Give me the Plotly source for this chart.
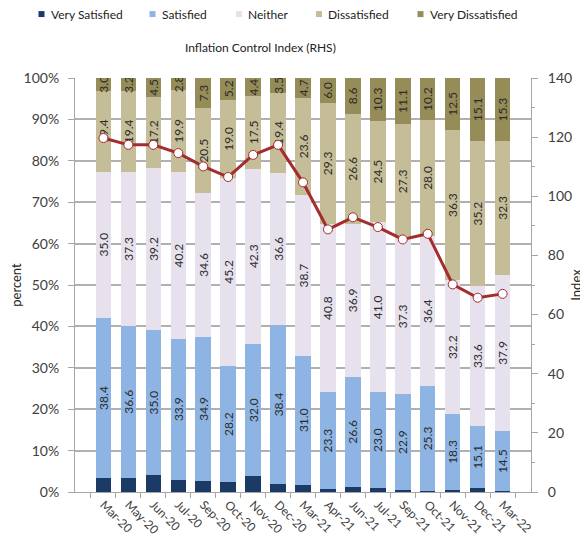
import plotly.graph_objects as go

categories = ["Mar-20", "May-20", "Jun-20", "Jul-20", "Sep-20", "Oct-20", "Nov-20", "Dec-20",
              "Mar-21", "Apr-21", "Jun-21", "Jul-21", "Sep-21", "Oct-21", "Nov-21", "Dec-21", "Mar-22"]

very_satisfied = [3.3, 3.5, 4.1, 3.0, 2.6, 2.3, 3.8, 1.9, 1.8, 0.8, 1.2, 1.0, 0.5, 0.3, 0.5, 0.9, 0.2]
satisfied = [38.4, 36.6, 35.0, 33.9, 34.9, 28.2, 32.0, 38.4, 31.0, 23.3, 26.6, 23.0, 22.9, 25.3, 18.3, 15.1, 14.5]
neither = [35.0, 37.3, 39.2, 40.2, 34.6, 45.2, 42.3, 36.6, 38.7, 40.8, 36.9, 41.0, 37.3, 36.4, 32.2, 33.6, 37.9]
dissatisfied = [19.4, 19.4, 17.2, 19.9, 20.5, 19.0, 17.5, 19.4, 23.6, 29.3, 26.6, 24.5, 27.3, 28.0, 36.3, 35.2, 32.3]
very_dissatisfied = [3.0, 3.2, 4.5, 2.8, 7.3, 5.2, 4.4, 3.5, 4.7, 6.0, 8.6, 10.3, 11.1, 10.2, 12.5, 15.1, 15.3]
inflation_index = [119.7, 117.4, 117.4, 114.6, 110.1, 106.5, 114.0, 117.4, 104.7,
                   88.8, 92.9, 89.6, 85.4, 87.3, 70.2, 65.7, 67.0]

FONT = "Lato"
TXT = "#404040"

series = [
    ("Very Satisfied", very_satisfied, "#1b3a66", False),
    ("Satisfied", satisfied, "#8db4e2", True),
    ("Neither", neither, "#e7e1ed", True),
    ("Dissatisfied", dissatisfied, "#c4bd97", True),
    ("Very Dissatisfied", very_dissatisfied, "#968c58", True),
]

# page body has an 8px margin, so the figure is sized/placed to compensate
OFF = 8
W, H = 588 - OFF, 552 - OFF
ML, MR, MT, MB = 67, 57, 70, 59.5
PW, PH = W - ML - MR, H - MT - MB


def px_x(page_x):
    return (page_x - OFF - ML) / PW


def px_y(page_y):
    return (H - MB - (page_y - OFF)) / PH


fig = go.Figure()
for name, vals, color, labelled in series:
    fig.add_trace(go.Bar(
        x=categories, y=vals, name=name,
        marker=dict(color=color, line=dict(width=0)),
        text=[f"{v:.1f}" for v in vals] if labelled else None,
        textposition="inside" if labelled else "none",
        insidetextanchor="middle",
        textangle=-90,
        constraintext="none",
        textfont=dict(family=FONT, size=12, color="#2b2b2b"),
        hoverinfo="skip",
        showlegend=False,
    ))

fig.add_trace(go.Scatter(
    x=categories, y=inflation_index, name="Inflation Control Index (RHS)",
    yaxis="y2", mode="lines+markers",
    line=dict(color="#a22c2e", width=3),
    marker=dict(size=9, color="white", line=dict(color="#a22c2e", width=1)),
    showlegend=False,
))

# manual legend (swatch + label), positioned in the top margin
legend_swatch_px = [41.5, 152.5, 239, 319, 420.5]
legend_y_px = 14
shapes = []
annotations = []
for (name, _, color, _), sx in zip(series, legend_swatch_px):
    shapes.append(dict(type="rect", xref="paper", yref="paper",
                       x0=px_x(sx - 3), x1=px_x(sx + 3),
                       y0=px_y(legend_y_px + 3), y1=px_y(legend_y_px - 3),
                       fillcolor=color, line=dict(width=0)))
    annotations.append(dict(text=name, xref="paper", yref="paper",
                            x=px_x(sx + 7), y=px_y(legend_y_px),
                            xanchor="left", yanchor="middle", showarrow=False,
                            font=dict(family=FONT, size=12, color="#222")))
annotations.append(dict(
    text="Inflation Control Index (RHS)", xref="paper", yref="paper",
    x=px_x(260), y=px_y(47), xanchor="center", yanchor="middle", showarrow=False,
    font=dict(family=FONT, size=12, color="#222"),
))

fig.update_layout(
    width=W, height=H,
    margin=dict(l=ML, r=MR, t=MT, b=MB),
    paper_bgcolor="white", plot_bgcolor="white",
    barmode="stack", barnorm="percent", bargap=0.38,
    uniformtext=dict(minsize=12, mode="show"),
    font=dict(family=FONT, size=12, color=TXT),
    showlegend=False,
    xaxis=dict(
        type="category", tickangle=45, tickson="boundaries",
        ticks="outside", ticklen=5, tickcolor="#a6a6a6",
        showline=True, linecolor="#a6a6a6", linewidth=1,
        tickfont=dict(family=FONT, size=12, color=TXT),
        showgrid=False, automargin=False,
    ),
    yaxis=dict(
        range=[0, 100], dtick=10, ticksuffix="%",
        ticks="outside", ticklen=6, tickcolor="#a6a6a6", ticklabelstandoff=6,
        showline=True, linecolor="#a6a6a6", linewidth=1,
        showgrid=True, gridcolor="#b0b0b0", gridwidth=1.5,
        zeroline=False, automargin=False,
        tickfont=dict(family=FONT, size=14, color=TXT),
        title=dict(text="percent", font=dict(family=FONT, size=13, color="#222"), standoff=3),
    ),
    yaxis2=dict(
        overlaying="y", side="right", range=[0, 140], dtick=20,
        ticks="outside", ticklen=6, tickcolor="#a6a6a6", ticklabelstandoff=7,
        minor=dict(dtick=10, ticks="outside", ticklen=3, tickcolor="#a6a6a6"),
        showline=True, linecolor="#a6a6a6", linewidth=1,
        showgrid=False, zeroline=False, automargin=False,
        tickfont=dict(family=FONT, size=14, color=TXT),
        title=dict(text="Index", font=dict(family=FONT, size=13, color="#222"), standoff=0),
    ),
    shapes=shapes,
    annotations=annotations,
)

fig.write_html("out.html")
